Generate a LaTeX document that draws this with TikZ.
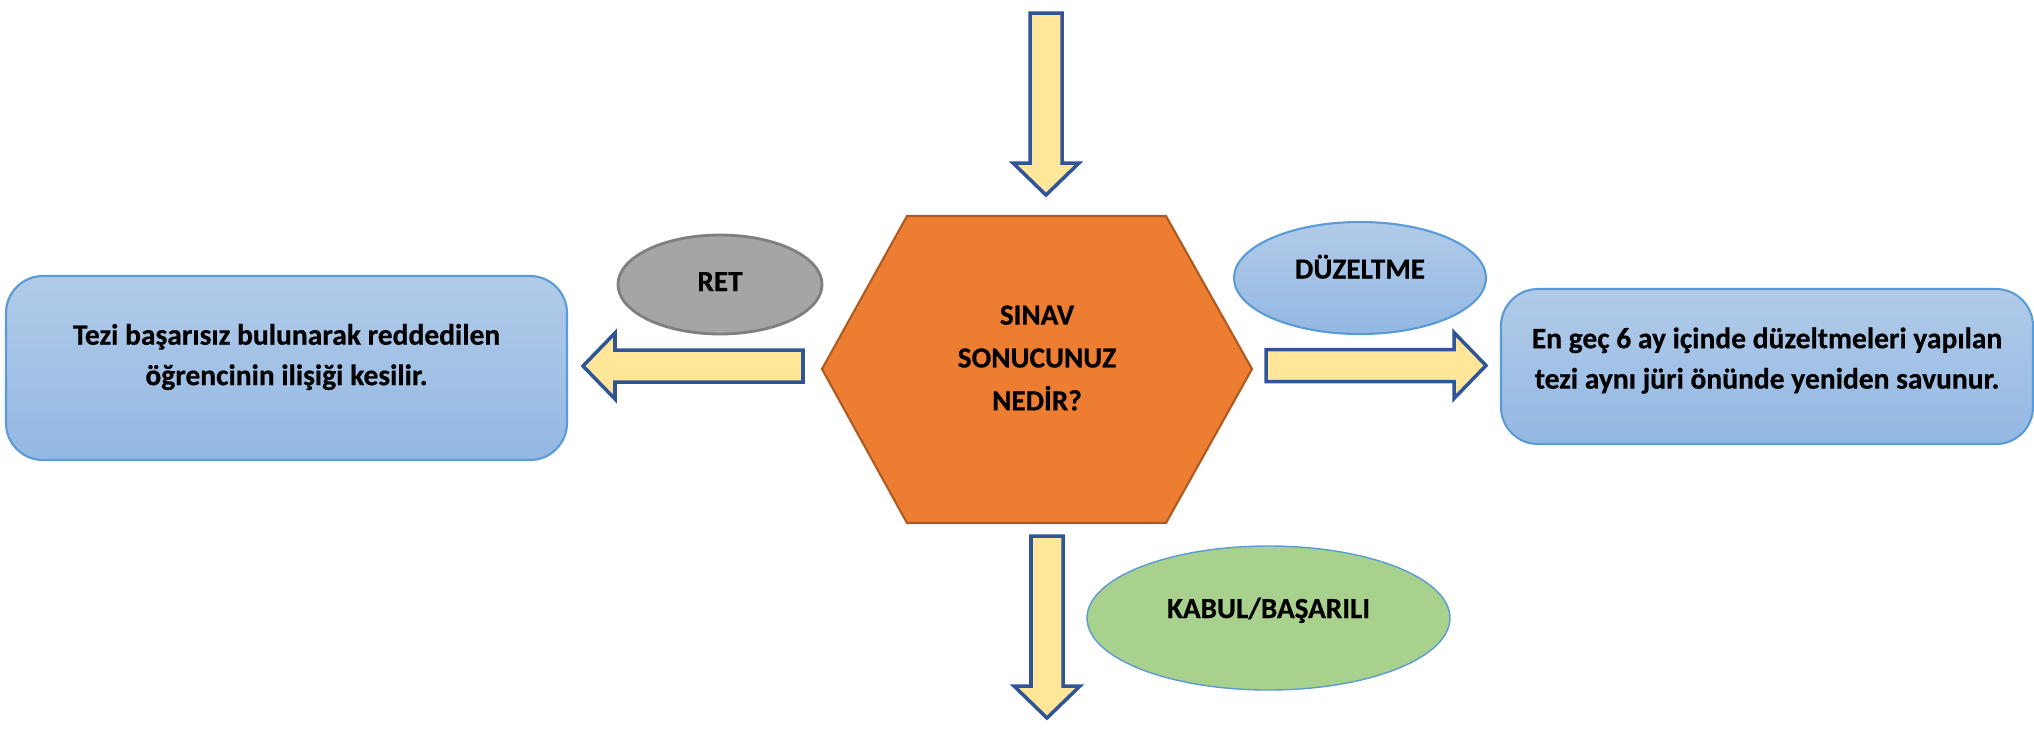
\documentclass[tikz,border=0pt]{standalone}
\usepackage{fontspec}
\setmainfont{Carlito}[BoldFeatures={FakeBold=0.6}]
\usetikzlibrary{shapes.geometric}

\definecolor{hexfill}{HTML}{ED7D31}
\definecolor{hexline}{HTML}{AE5A21}
\definecolor{bluetop}{HTML}{B1CBE9}
\definecolor{bluebot}{HTML}{94B8E3}
\definecolor{blueline}{HTML}{5B9BD5}
\definecolor{retfill}{HTML}{A5A5A5}
\definecolor{retline}{HTML}{7F7F7F}
\definecolor{kabulfill}{HTML}{A9D18E}
\definecolor{arrfill}{HTML}{FFE699}
\definecolor{arrline}{HTML}{2F5597}

\tikzset{
  lbl/.style={font=\fontsize{8.4}{11.5}\selectfont\bfseries, align=center, inner sep=0pt},
  bluebox/.style={draw=blueline, line width=0.6pt, top color=bluetop, bottom color=bluebot,
    rounded corners=0.37cm, inner sep=0pt},
  oval/.style={ellipse, inner sep=0pt, font=\fontsize{8.3}{10}\selectfont\bfseries, text height=0.18cm},
  pics/fatarrow/.style={code={
    \draw[draw=arrline, fill=arrfill, line width=1pt, line join=miter]
      (0,0) -- (-0.32,0.33) -- (-0.32,0.16) -- (-#1,0.16)
      -- (-#1,-0.16) -- (-0.32,-0.16) -- (-0.32,-0.33) -- cycle;}}
}

\begin{document}
\begin{tikzpicture}
  \useasboundingbox (0,0) rectangle (20.34,-7.32);

  % the question in the middle
  \draw[fill=hexfill, draw=hexline, line width=0.6pt]
    (8.22,-3.69) -- (9.07,-2.16) -- (11.66,-2.16) -- (12.52,-3.69)
    -- (11.66,-5.23) -- (9.07,-5.23) -- cycle;
  \node[lbl, font=\fontsize{8.3}{12.2}\selectfont\bfseries] (sinav) at (10.37,-3.58) {SINAV\\SONUCUNUZ\\NEDİR?};

  % results
  \node[oval, draw=retline, fill=retfill, line width=0.8pt, minimum width=2.04cm,
    minimum height=0.99cm, text depth=0.05cm] (ret) at (7.20,-2.845) {RET};
  \node[oval, draw=blueline, top color=bluetop, bottom color=bluebot, line width=0.6pt,
    minimum width=2.52cm, minimum height=1.12cm, text depth=0.17cm] (duzeltme) at (13.60,-2.78) {DÜZELTME};
  \node[oval, draw=blueline, fill=kabulfill, line width=0.4pt, minimum width=3.63cm,
    minimum height=1.44cm, text depth=0.18cm] (kabul) at (12.685,-6.18) {KABUL/BAŞARILI};

  % what follows
  \node[bluebox, minimum width=5.61cm, minimum height=1.84cm] (retbox) at (2.865,-3.68) {};
  \node[lbl] (rettext) at ([yshift=1.1mm]retbox.center)
    {Tezi başarısız bulunarak reddedilen\\öğrencinin ilişiği kesilir.};
  \node[bluebox, minimum width=5.32cm, minimum height=1.55cm] (duzbox) at (17.67,-3.665) {};
  \node[lbl] (duztext) at ([yshift=0.6mm]duzbox.center)
    {En geç 6 ay içinde düzeltmeleri yapılan\\tezi aynı jüri önünde yeniden savunur.};

  % block arrows
  \pic[rotate=-90] at (10.46,-1.95) {fatarrow=1.82};
  \pic[rotate=-90] at (10.47,-7.18) {fatarrow=1.82};
  \pic[rotate=180] at (5.83,-3.66) {fatarrow=2.20};
  \pic at (14.86,-3.655) {fatarrow=2.20};
\end{tikzpicture}
\end{document}
